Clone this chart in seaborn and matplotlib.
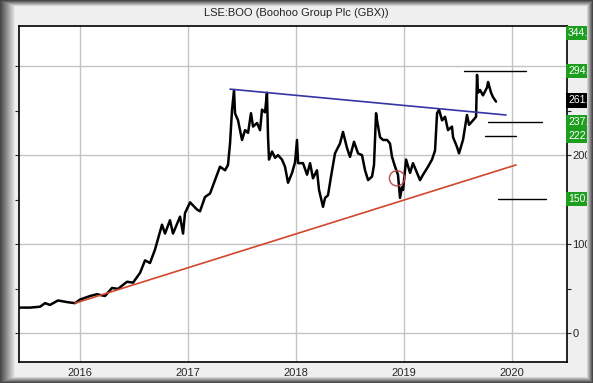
import numpy as np
import pandas as pd
import matplotlib
matplotlib.use('Agg')
import matplotlib.pyplot as plt
import seaborn as sns

# price trace (decimal year, pence)
dates = [2015.435, 2015.537, 2015.63, 2015.676, 2015.722, 2015.796, 2015.889, 2015.954,
         2016.0, 2016.093, 2016.157, 2016.231, 2016.296, 2016.352, 2016.435, 2016.491,
         2016.556, 2016.602, 2016.648, 2016.694, 2016.759, 2016.787, 2016.833, 2016.861,
         2016.926, 2016.954, 2016.972, 2017.019, 2017.083, 2017.111, 2017.157, 2017.204,
         2017.25, 2017.296, 2017.343, 2017.37, 2017.389, 2017.407, 2017.426, 2017.435,
         2017.463, 2017.5, 2017.528, 2017.556, 2017.583, 2017.602, 2017.639, 2017.667,
         2017.685, 2017.713, 2017.731, 2017.741, 2017.75, 2017.778, 2017.806, 2017.833,
         2017.87, 2017.898, 2017.926, 2017.963, 2017.991, 2018.009, 2018.019, 2018.065,
         2018.102, 2018.13, 2018.157, 2018.194, 2018.213, 2018.25, 2018.269, 2018.296,
         2018.324, 2018.361, 2018.407, 2018.435, 2018.472, 2018.5, 2018.537, 2018.574,
         2018.611, 2018.639, 2018.667, 2018.704, 2018.722, 2018.741, 2018.75, 2018.778,
         2018.806, 2018.843, 2018.87, 2018.889, 2018.917, 2018.944, 2018.963, 2018.981,
         2018.991, 2019.019, 2019.056, 2019.083, 2019.12, 2019.148, 2019.176, 2019.222,
         2019.259, 2019.287, 2019.306, 2019.324, 2019.352, 2019.38, 2019.407, 2019.444,
         2019.454, 2019.491, 2019.509, 2019.546, 2019.583, 2019.602, 2019.639, 2019.667,
         2019.676, 2019.685, 2019.704, 2019.731, 2019.769, 2019.778, 2019.806, 2019.824,
         2019.852]
prices = [29, 29, 30, 34, 32, 37, 35, 34,
          38, 42, 44, 42, 51, 50, 58, 57,
          68, 82, 79, 94, 122, 112, 127, 112,
          131, 112, 135, 147, 139, 137, 153, 157,
          172, 187, 183, 189, 213, 250, 273, 247,
          239, 217, 228, 225, 247, 232, 236, 228,
          251, 248, 270, 220, 195, 204, 197, 200,
          195, 187, 169, 180, 192, 217, 191, 191,
          178, 191, 174, 183, 161, 142, 152, 155,
          176, 202, 213, 226, 208, 198, 215, 202,
          200, 183, 172, 176, 189, 247, 239, 220,
          217, 217, 213, 198, 187, 178, 152, 164,
          161, 195, 180, 191, 180, 172, 178, 187,
          195, 205, 247, 251, 239, 243, 228, 232,
          220, 209, 202, 217, 245, 234, 239, 243,
          290, 270, 273, 267, 276, 282, 270, 265,
          260]

# trend lines
blue_x = [2017.389, 2019.944]
blue_y = [274, 245]
red_x = [2015.954, 2020.037]
red_y = [34, 189]

# target levels: (value, start, end)
level_vals = [294.5, 237.1, 222.0, 150.7]
level_start = [2019.556, 2019.778, 2019.75, 2019.87]
level_end = [2020.13, 2020.28, 2020.04, 2020.315]

# right-hand value tags
tag_vals = [344.7, 294.5, 261.3, 237.1, 222.0, 150.7]
tag_text = ['344.7', '294.5', '261.3', '237.1', '222.0', '150.7']
tag_colors = ['#1e9e1e', '#1e9e1e', '#000000', '#1e9e1e', '#1e9e1e', '#1e9e1e']

circle_x = [2018.935]
circle_y = [174]

sns.set_style('white')
plt.rcParams['font.family'] = ['Liberation Sans', 'DejaVu Sans']

W, H = 593, 383
fig = plt.figure(figsize=(W / 100, H / 100), dpi=100, facecolor='#efefef')
ax = fig.add_axes([19 / W, 1 - 362 / H, (567 - 19) / W, (362 - 26) / H])
ax.set_facecolor('white')

df = pd.DataFrame({'date': dates, 'price': prices})
sns.lineplot(data=df, x='date', y='price', ax=ax, color='black', lw=1.8, zorder=4)
sns.lineplot(x=blue_x, y=blue_y, ax=ax, color='#3535a5', lw=1.2, zorder=5)
sns.lineplot(x=red_x, y=red_y, ax=ax, color='#d2462e', lw=1.2, zorder=5)
for v, s, e in zip(level_vals, level_start, level_end):
    ax.plot([s, e], [v, v], color='black', lw=1, zorder=5)
ax.scatter(circle_x, circle_y, s=120, facecolors='none', edgecolors='#c04a4a', lw=1, zorder=6)

ax.set_xlim(2015.435, 2020.509)
ax.set_ylim(-32, 344.8)
ax.set_xticks([2016, 2017, 2018, 2019, 2020])
ax.set_xticklabels(['2016', '2017', '2018', '2019', '2020'])
ax.set_yticks([0, 100, 200, 300])
ax.set_yticklabels(['0', '100', '200', ''])
ax.set_yticks([50, 150, 250], minor=True)
ax.grid(True, which='major', color='#c4c4c4', lw=1)
ax.set_axisbelow(True)
ax.yaxis.tick_right()
ax.tick_params(axis='y', which='both', left=True, right=True, direction='out',
               length=3, width=0.8, labelsize=8, pad=1)
ax.tick_params(axis='x', direction='out', length=2, width=0.8, labelsize=8, pad=2)
ax.set_xlabel('')
ax.set_ylabel('')
for sp in ax.spines.values():
    sp.set_visible(True)
    sp.set_color('black')
    sp.set_linewidth(1.2)

ytop = ax.get_ylim()[1]
for v, t, c in zip(tag_vals, tag_text, tag_colors):
    yy = min(v, ytop - 8)
    ax.text(1.002, yy, t, transform=ax.get_yaxis_transform(), ha='left', va='center',
            fontsize=7.5, color='white', zorder=7, clip_on=False,
            bbox=dict(boxstyle='square,pad=0.22', fc=c, ec='none'))

fig.text(0.5, 1 - 13 / H, 'LSE:BOO (Boohoo Group Plc (GBX))', ha='center', va='center',
         fontsize=8, color='#222222')

# bevelled frame round the picture
yy, xx = np.mgrid[0:H, 0:W]
ramp = np.ones((H, W))
for d, w in [(xx, 15), (W - 1 - xx, 6), (yy, 6), (H - 1 - yy, 6)]:
    ramp = np.minimum(ramp, np.clip(d / w, 0, 1))
gray = 0.28 + (0.94 - 0.28) * ramp
rgba = np.dstack([gray, gray, gray, (ramp < 1).astype(float)])
ov = fig.add_axes([0, 0, 1, 1], zorder=10)
ov.imshow(rgba, aspect='auto', interpolation='nearest')
ov.axis('off')

fig.savefig('out.png', dpi=100, facecolor=fig.get_facecolor())
